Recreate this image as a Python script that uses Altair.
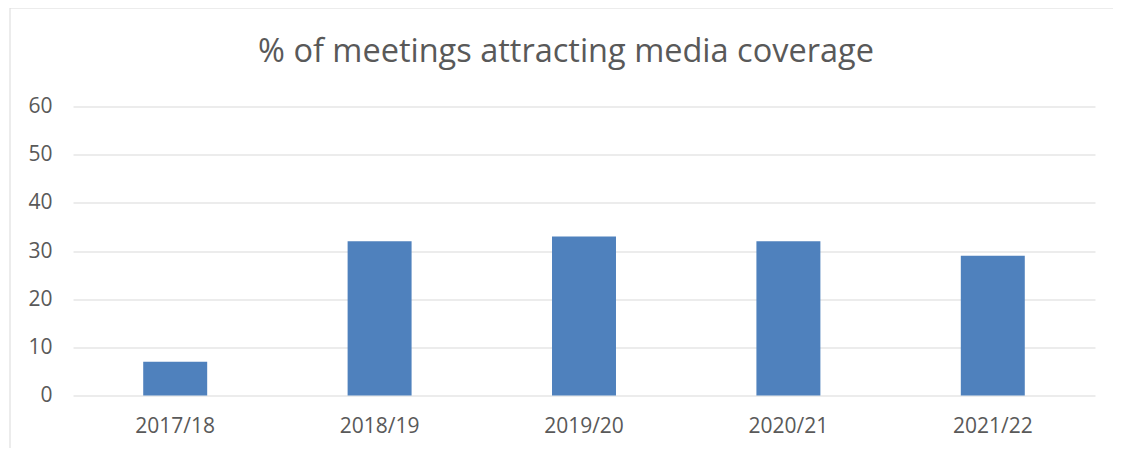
import altair as alt
import pandas as pd

years = ["2017/18", "2018/19", "2019/20", "2020/21", "2021/22"]
values = [7, 32, 33, 32, 29]
title_text = "% of meetings attracting media coverage"

df = pd.DataFrame({"year": years, "pct": values})

FONT = "Open Sans"
GREY = "#595959"

bars = alt.Chart(df).mark_bar(color="#4f81bd").encode(
    x=alt.X("year:N", sort=years, title=None,
            scale=alt.Scale(paddingInner=0.687, paddingOuter=0.3435),
            axis=alt.Axis(labelAngle=0, ticks=False, domain=False, grid=False,
                          labelFont=FONT, labelFontSize=21, labelColor=GREY,
                          labelPadding=20)),
    y=alt.Y("pct:Q", title=None,
            scale=alt.Scale(domain=[0, 60]),
            axis=alt.Axis(values=[0, 10, 20, 30, 40, 50, 60], ticks=False, domain=False,
                          gridColor="#d9d9d9", gridWidth=1,
                          labelFont=FONT, labelFontSize=21, labelColor=GREY,
                          labelPadding=21)),
)

title = alt.Chart(pd.DataFrame({"t": [title_text]})).mark_text(
    font=FONT, fontSize=32.5, color=GREY, align="center", baseline="alphabetic"
).encode(text="t:N", x=alt.value(493), y=alt.value(-45))

frame_top = alt.Chart(pd.DataFrame({"a": [0]})).mark_rule(color="#d9d9d9", strokeWidth=1).encode(
    x=alt.value(-63), x2=alt.value(1060), y=alt.value(-98.5)
)
frame_left = alt.Chart(pd.DataFrame({"a": [0]})).mark_rule(color="#d9d9d9", strokeWidth=1).encode(
    x=alt.value(-63), y=alt.value(-98.5), y2=alt.value(360)
)

chart = alt.layer(frame_top, frame_left, bars, title).properties(
    width=1022, height=289,
    autosize=alt.AutoSizeParams(type="none"),
    padding={"left": 65, "top": 98.5, "right": 18, "bottom": 52},
).configure_view(stroke=None)

chart.save("out.html", embed_options={"renderer": "svg", "actions": False})
